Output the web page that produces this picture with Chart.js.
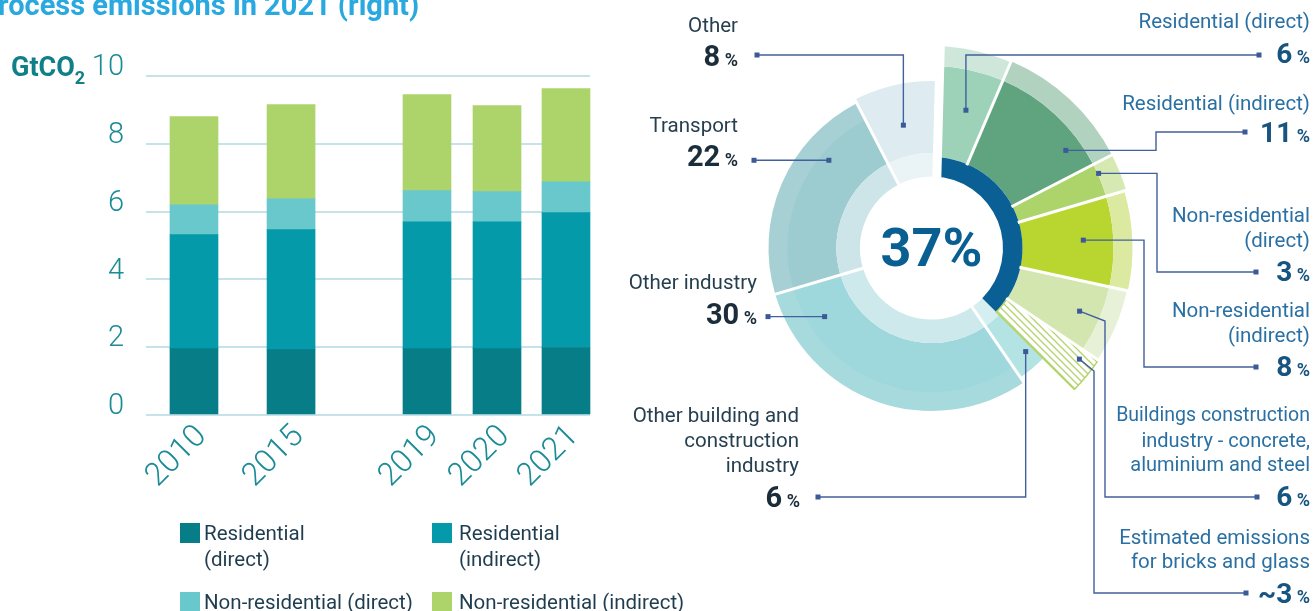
<!DOCTYPE html>
<html><head><meta charset="utf-8">
<script src="https://cdn.jsdelivr.net/npm/chart.js@4.4.1/dist/chart.umd.min.js"></script>
<style>
html,body{margin:0;padding:0;background:#fff;}
body{width:1313px;height:611px;position:relative;overflow:hidden;font-family:Roboto,"Noto Sans",sans-serif;}
canvas{position:absolute;left:0;top:0;}
.t{position:absolute;white-space:nowrap;line-height:1;}
.sq{position:absolute;width:20px;height:20px;}
</style></head><body>
<canvas id="bar" width="1313" height="611"></canvas>
<canvas id="pie" width="1313" height="611"></canvas>
<div id="txt"></div>
<script>
// ---------------- Left chart data (GtCO2) ----------------
const years = ['2010', '2015', '2019', '2020', '2021'];
const residentialDirect      = [1.96, 1.93, 1.96, 1.96, 1.99];
const residentialIndirect    = [3.36, 3.54, 3.74, 3.74, 3.98];
const nonResidentialDirect   = [0.88, 0.91, 0.92, 0.89, 0.91];
const nonResidentialIndirect = [2.60, 2.78, 2.83, 2.54, 2.75];
const yTicks = [0, 2, 4, 6, 8, 10];
const barSeriesNames = ['Residential (direct)', 'Residential (indirect)', 'Non-residential (direct)', 'Non-residential (indirect)'];

// ---------------- Right chart data (% of emissions) ----------------
const sectorNames = ['Residential (direct)', 'Residential (indirect)', 'Non-residential (direct)', 'Non-residential (indirect)',
  'Buildings construction industry - concrete, aluminium and steel', 'Other building and construction industry',
  'Other industry', 'Transport', 'Other'];
const sectorShares = [6, 11, 3, 8, 6, 6, 30, 22, 8];
const buildingsShare = 37;
const bricksGlassShare = 3;

// ---------------- Layout / style ----------------
const yearSlots = [0, 2.87, 6.89, 8.96, 11];   // horizontal slot of each year group
const barColors = ['#077d87', '#059aaa', '#69c8cc', '#add46a'];
const T = 'rgba(0,0,0,0)';

const barSeries = [residentialDirect, residentialIndirect, nonResidentialDirect, nonResidentialIndirect];
new Chart(document.getElementById('bar'), {
  type: 'bar',
  data: {
    datasets: barSeries.map((vals, k) => ({
      label: barSeriesNames[k],
      data: vals.map((v, i) => ({ x: yearSlots[i], y: v })),
      backgroundColor: barColors[k], borderWidth: 0, barThickness: 48, clip: false
    }))
  },
  options: {
    responsive: false, animation: false, events: [],
    layout: { padding: { left: 0, top: 76, right: 723, bottom: 0 } },
    plugins: { legend: { display: false }, tooltip: { enabled: false } },
    scales: {
      x: {
        type: 'linear', stacked: true, offset: false, min: -1.419, max: 11.71,
        grid: { display: false }, border: { display: false },
        afterBuildTicks: s => { s.ticks = yearSlots.map(v => ({ value: v })); },
        afterFit: s => { s.height = 196; },
        ticks: {
          autoSkip: false, minRotation: 45, maxRotation: 45, padding: -5, labelOffset: 8,
          color: '#1b8b96', font: { family: 'Roboto', size: 32, weight: '300' },
          callback: v => { const i = yearSlots.indexOf(v); return i >= 0 ? years[i] : ''; }
        }
      },
      y: {
        stacked: true, min: 0, max: 10,
        afterBuildTicks: s => { s.ticks = yTicks.map(v => ({ value: v })); },
        afterFit: s => { s.width = 146; },
        grid: { color: '#c6e3ea', lineWidth: 2, drawTicks: false },
        border: { display: false },
        ticks: { color: '#1b8b96', font: { family: 'Roboto', size: 29, weight: '300' }, padding: 22, labelOffset: -8 }
      }
    }
  }
});

// ---------------- Donut ----------------
function hatchPattern() {
  const c = document.createElement('canvas'); c.width = 7; c.height = 7;
  const x = c.getContext('2d');
  x.fillStyle = '#fff'; x.fillRect(0, 0, 7, 7);
  x.strokeStyle = '#b3d46c'; x.lineWidth = 1.3;
  x.beginPath();
  x.moveTo(-1, -1); x.lineTo(8, 8);
  x.moveTo(-1, 6); x.lineTo(1, 8);
  x.moveTo(6, -1); x.lineTo(8, 1);
  x.stroke();
  return x.createPattern(c, 'repeat');
}
const HOLE = 71.5, DARK_OUT = 91;
const ringStyles = {
  main:  { colors: ['#9dd1b8', '#5fa47e', '#acd46a', '#b9d530', '#d4e6b0', '#b3e3e3', '#9ed8dc', '#9ccbd0', '#deecf1'],
           radii: [[91,182],[91,182],[91,182],[91,182],[91,182],[95,157],[95,145],[95,145],[95,167]] },
  ext:   { colors: ['#cfe7db', '#b0d2bf', '#d6e9b2', '#dce9a0', '#e7f1d7', T, T, T, T],
           radii: [[182,202],[182,203],[182,203],[182,201],[182,200],[0,0],[0,0],[0,0],[0,0]] },
  band:  { colors: [T, T, T, T, T, T, '#a7dadd', '#a7d0d5', T],
           radii: [[0,0],[0,0],[0,0],[0,0],[0,0],[0,0],[144,163],[144,163],[0,0]] },
  inner: { colors: [T, T, T, T, T, '#d5eff0', '#cde9ec', '#cde5e9', '#eaf3f6'],
           radii: [[0,0],[0,0],[0,0],[0,0],[0,0],[HOLE,95],[HOLE,95],[HOLE,95],[HOLE,95]] }
};
const ROT = 1.5;
const buildingSliceSum = sectorShares.slice(0, 5).reduce((a, b) => a + b, 0);
const pieDatasets = [
  { label: 'main', data: sectorShares, backgroundColor: ringStyles.main.colors, radii: ringStyles.main.radii, order: 5 },
  { label: 'ext', data: sectorShares, backgroundColor: ringStyles.ext.colors, radii: ringStyles.ext.radii, order: 4 },
  { label: 'band', data: sectorShares, backgroundColor: ringStyles.band.colors, radii: ringStyles.band.radii, order: 3 },
  { label: 'inner', data: sectorShares, backgroundColor: ringStyles.inner.colors, radii: ringStyles.inner.radii, order: 2 },
  { label: 'buildings', data: [buildingsShare, 100 - buildingsShare], backgroundColor: ['#0a6094', T],
    radii: [[HOLE, DARK_OUT], [0, 0]], order: 1 },
  { label: 'bricks', data: [buildingSliceSum, bricksGlassShare, 100 - buildingSliceSum - bricksGlassShare],
    backgroundColor: [T, hatchPattern(), T], borderColor: [T, '#b3d46c', T], borderWidth: [0, 1.5, 0],
    radii: [[0, 0], [DARK_OUT, 201], [0, 0]], order: 0 }
].map(d => Object.assign({ borderWidth: 0, rotation: ROT, clip: false }, d));

const radiusPlugin = {
  id: 'radii',
  afterDatasetsUpdate(chart) {
    chart.data.datasets.forEach((ds, i) => {
      chart.getDatasetMeta(i).data.forEach((arc, j) => {
        arc.innerRadius = ds.radii[j][0];
        arc.outerRadius = ds.radii[j][1];
      });
    });
  }
};
const sepFrom = [HOLE, DARK_OUT, DARK_OUT, DARK_OUT, DARK_OUT, DARK_OUT, HOLE, HOLE, HOLE];
const sepWidth = [9, 3, 3, 3, 3, 3, 3, 3, 3];
const sepShift = [3.5, 0, 0, 0, 0, 0, 0, 0, 0];
const separatorPlugin = {
  id: 'separators',
  afterDatasetsDraw(chart) {
    const ctx = chart.ctx;
    const metas = [0, 1, 2].map(i => chart.getDatasetMeta(i));
    const n = sectorShares.length;
    ctx.save();
    ctx.strokeStyle = '#fff';
    for (let j = 0; j < n; j++) {
      const arc = metas[0].data[j];
      const prev = (j + n - 1) % n;
      let rEnd = 0;
      metas.forEach(m => { rEnd = Math.max(rEnd, m.data[j].outerRadius, m.data[prev].outerRadius); });
      rEnd += 3;
      const a = arc.startAngle;
      const sx = -Math.sin(a) * sepShift[j], sy = Math.cos(a) * sepShift[j];
      ctx.lineWidth = sepWidth[j];
      ctx.beginPath();
      ctx.moveTo(arc.x + sx + Math.cos(a) * (sepFrom[j] - 1), arc.y + sy + Math.sin(a) * (sepFrom[j] - 1));
      ctx.lineTo(arc.x + sx + Math.cos(a) * rEnd, arc.y + sy + Math.sin(a) * rEnd);
      ctx.stroke();
    }
    ctx.restore();
  }
};
// leader lines: anchor taken inside the slice (fraction of its angle, radius), then a path to the label
const leaders = [
  { ds: 0, i: 8, f: 0.5,  r: 126, path: [['v', 55], ['h', 757]] },
  { ds: 0, i: 7, f: 0.72, r: 135, path: [['h', 754]] },
  { ds: 0, i: 6, f: 0.85, r: 127, path: [['h', 768]] },
  { ds: 0, i: 5, f: 0.64, r: 140, path: [['v', 497], ['h', 818]] },
  { ds: 0, i: 0, f: 0.58, r: 142, path: [['v', 55], ['h', 1259]] },
  { ds: 0, i: 1, f: 0.78, r: 166, path: [['h', 1156], ['v', 132], ['h', 1245]] },
  { ds: 0, i: 2, f: 0.3,  r: 183, path: [['h', 1157], ['v', 272], ['h', 1256]] },
  { ds: 0, i: 3, f: 0.47, r: 152, path: [['h', 1144], ['v', 367], ['h', 1256]] },
  { ds: 0, i: 4, f: 0.5,  r: 161, path: [['p', 1105, 321], ['v', 497], ['h', 1257]] },
  { ds: 5, i: 1, f: 0.28, r: 185, path: [['p', 1094, 371], ['v', 593], ['h', 1246]] }
];
const leaderPlugin = {
  id: 'leaders',
  afterDraw(chart) {
    const ctx = chart.ctx;
    ctx.save();
    ctx.strokeStyle = '#41609d'; ctx.fillStyle = '#3d5a98'; ctx.lineWidth = 1.4;
    leaders.forEach(L => {
      const arc = chart.getDatasetMeta(L.ds).data[L.i];
      const a = arc.startAngle + L.f * (arc.endAngle - arc.startAngle);
      let x = arc.x + Math.cos(a) * L.r, y = arc.y + Math.sin(a) * L.r;
      const pts = [[x, y]];
      L.path.forEach(p => {
        if (p[0] === 'h') x = p[1];
        else if (p[0] === 'v') y = p[1];
        else { x = p[1]; y = p[2]; }
        pts.push([x, y]);
      });
      ctx.beginPath();
      pts.forEach((p, k) => k ? ctx.lineTo(p[0], p[1]) : ctx.moveTo(p[0], p[1]));
      ctx.stroke();
      [pts[0], pts[pts.length - 1]].forEach(p => ctx.fillRect(p[0] - 2.5, p[1] - 2.5, 5, 5));
    });
    ctx.restore();
  }
};
new Chart(document.getElementById('pie'), {
  type: 'doughnut',
  data: { labels: sectorNames, datasets: pieDatasets },
  options: {
    responsive: false, animation: false, events: [],
    layout: { padding: { left: 600, right: 50, top: 0, bottom: 115 } },
    plugins: { legend: { display: false }, tooltip: { enabled: false } }
  },
  plugins: [radiusPlugin, separatorPlugin, leaderPlugin]
});

// ---------------- Texts ----------------
const box = document.getElementById('txt');
function addText(html, o) {
  const d = document.createElement('div');
  d.className = 't';
  d.innerHTML = html;
  d.style.fontSize = o.size + 'px';
  d.style.color = o.color;
  d.style.fontWeight = o.weight || 400;
  d.style.top = (o.y - o.size / 2) + 'px';
  if (o.right !== undefined) { d.style.right = (1313 - o.right) + 'px'; d.style.textAlign = 'right'; }
  else d.style.left = o.left + 'px';
  box.appendChild(d);
}
function pct(v, numSize, color, right, y) {
  addText(`${v}<span style="font-size:18px"> %</span>`, { size: numSize, color, weight: 700, right, y });
}
// title (cropped at the top of the picture)
addText('rocess emissions in 2021 (right)', { size: 29, color: '#2aa8e0', weight: 700, left: -2, y: 5 });
// unit label
addText('GtCO<span style="font-size:18px;position:relative;top:8px;">2</span>', { size: 27, color: '#0f7f88', weight: 700, left: 11, y: 67 });

// left-side donut labels
const LC = '#263f4f', LN = '#1b2d3a';
addText('Other', { size: 20.5, color: LC, right: 738, y: 25 });
pct(sectorShares[8], 29, LN, 738, 56);
addText('Transport', { size: 20.5, color: LC, right: 738, y: 125 });
pct(sectorShares[7], 29, LN, 738, 156);
addText('Other industry', { size: 20.5, color: LC, right: 757, y: 282 });
pct(sectorShares[6], 29, LN, 757, 314);
addText('Other building and', { size: 20.5, color: LC, right: 799, y: 415 });
addText('construction', { size: 20.5, color: LC, right: 799, y: 440 });
addText('industry', { size: 20.5, color: LC, right: 799, y: 465 });
pct(sectorShares[5], 29, LN, 800, 497);

// right-side donut labels
const RC = '#2a70a3', RN = '#17547f', RX = 1310;
addText('Residential (direct)', { size: 20.5, color: RC, right: RX, y: 21 });
pct(sectorShares[0], 28, RN, RX, 54);
addText('Residential (indirect)', { size: 20.5, color: RC, right: RX, y: 103 });
pct(sectorShares[1], 28, RN, RX, 133);
addText('Non-residential', { size: 20.5, color: RC, right: RX, y: 215 });
addText('(direct)', { size: 20.5, color: RC, right: RX, y: 240 });
pct(sectorShares[2], 28, RN, RX, 272);
addText('Non-residential', { size: 20.5, color: RC, right: RX, y: 310 });
addText('(indirect)', { size: 20.5, color: RC, right: RX, y: 335 });
pct(sectorShares[3], 28, RN, RX, 367);
addText('Buildings construction', { size: 19.5, color: RC, right: RX, y: 415 });
addText('industry - concrete,', { size: 20, color: RC, right: RX, y: 440 });
addText('aluminium and steel', { size: 20, color: RC, right: RX, y: 464 });
pct(sectorShares[4], 28, RN, RX, 497);
addText('Estimated emissions', { size: 20.5, color: RC, right: RX, y: 537 });
addText('for bricks and glass', { size: 20.5, color: RC, right: RX, y: 561 });
pct('~' + bricksGlassShare, 28, RN, RX, 594);

// centre value
const c = document.createElement('div');
c.className = 't';
c.style.cssText = 'left:831.5px;width:200px;text-align:center;top:221px;font-size:54px;font-weight:700;color:#0a5f92;';
c.textContent = buildingsShare + '%';
box.appendChild(c);

// legend for the bar chart
const legendPos = [[180, 523], [432, 523], [180, 592], [432, 592]];
const legendText = ['Residential<br>(direct)', 'Residential<br>(indirect)', barSeriesNames[2], barSeriesNames[3]];
legendPos.forEach((p, k) => {
  const s = document.createElement('div');
  s.className = 'sq';
  s.style.left = p[0] + 'px'; s.style.top = p[1] + 'px'; s.style.background = barColors[k];
  box.appendChild(s);
  const d = document.createElement('div');
  d.className = 't';
  d.style.cssText = `left:${p[0] + (k % 2 ? 27 : 24)}px;top:${p[1] - 3}px;font-size:20.5px;line-height:26px;color:#1f3d4f;`;
  d.innerHTML = legendText[k];
  box.appendChild(d);
});
</script>
</body></html>
